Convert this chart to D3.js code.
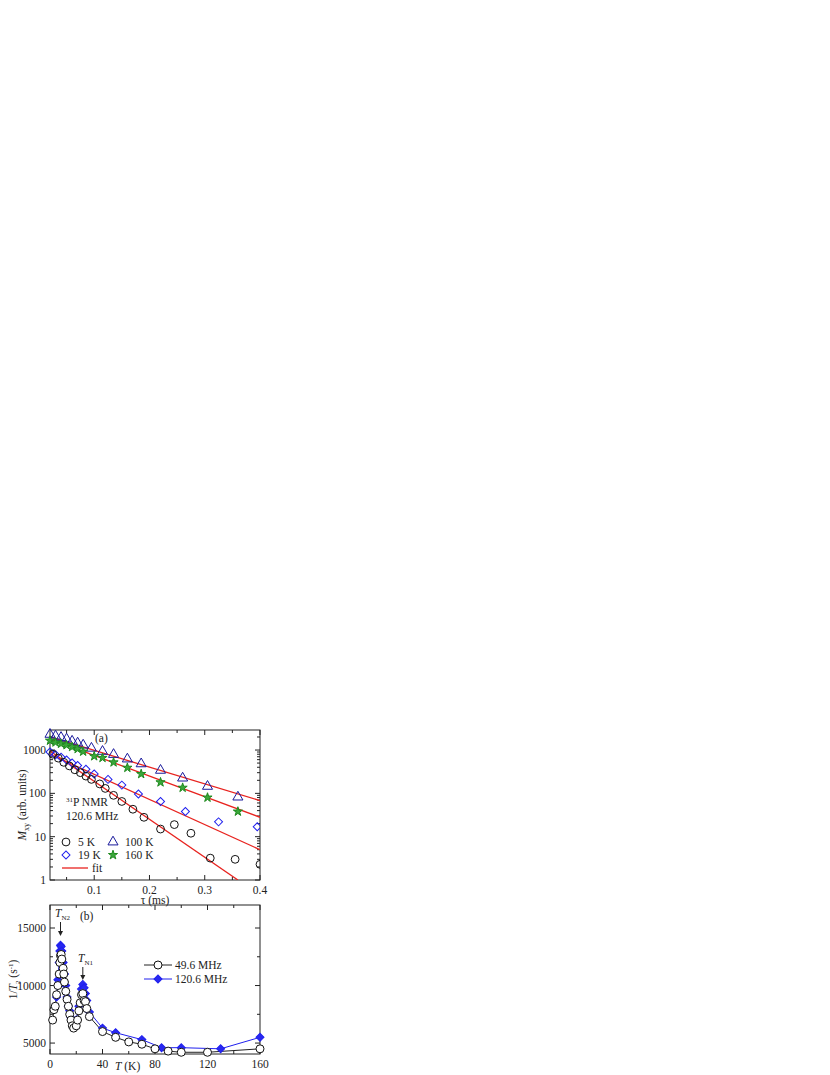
<!DOCTYPE html>
<html><head><meta charset="utf-8">
<script src="https://cdn.jsdelivr.net/npm/d3@7"></script>
<style>
body{margin:0;background:#fff}
text{font-family:"Liberation Serif",serif;fill:#222}
</style></head><body>
<svg id="c" width="830" height="1075"></svg>
<script>
// panel (a) data: tau (ms) and M_xy
const tau5 = [0.025,0.035,0.045,0.055,0.065,0.075,0.085,0.095,0.11,0.12,0.135,0.15,0.17,0.19,0.22,0.245,0.275,0.31,0.355,0.4]
const m5 = [800,650,520,430,350,300,250,210,165,130,90,65,43,28,15,19,12,3.2,3.0,2.3]
const tau19 = [0.02,0.03,0.04,0.05,0.06,0.07,0.085,0.1,0.125,0.15,0.18,0.22,0.265,0.325,0.395]
const m19 = [900,780,680,590,500,440,360,280,210,155,97,65,38,22,17]
const tau100 = [0.02,0.03,0.04,0.05,0.06,0.07,0.08,0.095,0.115,0.135,0.16,0.185,0.22,0.26,0.305,0.36]
const m100 = [2300,2100,1950,1800,1600,1450,1300,1100,930,790,620,480,340,225,145,82]
const tau160 = [0.02,0.03,0.04,0.05,0.06,0.07,0.08,0.1,0.115,0.135,0.16,0.185,0.22,0.26,0.305,0.36]
const m160 = [1650,1500,1400,1300,1180,1060,920,720,660,520,390,280,180,135,80,38]
// fit lines: [tau, M] endpoints
const fit5 = [[0.02,950],[0.36,1]]
const fit19 = [[0.02,800],[0.4,5]]
const fit100 = [[0.02,2000],[0.4,68]]
const fit160 = [[0.02,1800],[0.4,28]]

// panel (b) data: T (K) and 1/T2
const T49 = [2,3,4,5,6,7,7.5,8,8.5,9,10,10.5,11,12,13,14,15,16,17,18,20,21,22,23,24,25,26,27,28,30,40,50,60,70,80,90,100,120,160]
const r49 = [7000,7900,8200,9200,10000,11000,12000,12600,12700,12300,11500,11000,10300,9500,8800,8200,7500,7000,6500,6300,6500,7000,7800,8500,9200,9300,8700,8600,8000,7300,6000,5500,5100,4900,4500,4300,4200,4200,4500]
const T120 = [5,6,7,7.5,8,8.5,9,10,11,12,13,14,15,16,18,20,22,24,25,26,27,28,30,40,50,70,85,100,130,160]
const r120 = [9000,10500,12000,13000,13500,13400,13000,12000,11000,10000,9000,8200,7800,7200,6800,7000,8200,9700,10100,9800,9300,8700,7700,6300,5900,5300,4600,4600,4500,5500]

const svg = d3.select('#c')
const left = 50, right = 260

function frame(g, x, y, w, h, xMaj, xMin, yMaj, yMin) {
  g.append('rect').attr('x', 0).attr('y', 0).attr('width', w).attr('height', h)
    .attr('fill', 'none').attr('stroke', '#222').attr('stroke-width', 1)
  const tick = (vals, len, fn) => vals.forEach(v => fn(v, len))
  tick(xMaj, 5, (v, l) => { [[h, h - l], [0, l]].forEach(p => g.append('line').attr('x1', x(v)).attr('x2', x(v)).attr('y1', p[0]).attr('y2', p[1]).attr('stroke', '#222')) })
  tick(xMin, 3, (v, l) => { [[h, h - l], [0, l]].forEach(p => g.append('line').attr('x1', x(v)).attr('x2', x(v)).attr('y1', p[0]).attr('y2', p[1]).attr('stroke', '#222')) })
  tick(yMaj, 5, (v, l) => { [[0, l], [w, w - l]].forEach(p => g.append('line').attr('y1', y(v)).attr('y2', y(v)).attr('x1', p[0]).attr('x2', p[1]).attr('stroke', '#222')) })
  tick(yMin, 3, (v, l) => { [[0, l], [w, w - l]].forEach(p => g.append('line').attr('y1', y(v)).attr('y2', y(v)).attr('x1', p[0]).attr('x2', p[1]).attr('stroke', '#222')) })
}

// ---------- panel (a)
const ga = svg.append('g').attr('transform', `translate(${left},730)`)
const wa = right - left, ha = 150
const xa = d3.scaleLinear().domain([0.02, 0.4]).range([0, wa])
const ya = d3.scaleLog().domain([1, 2900]).range([ha, 0])
const yaMin = []
;[1, 10, 100, 1000].forEach(d => { for (let k = 2; k <= 9; k++) if (d * k <= 2900) yaMin.push(d * k) })
frame(ga, xa, ya, wa, ha, [0.1, 0.2, 0.3, 0.4], [0.05, 0.15, 0.25, 0.35], [1, 10, 100, 1000], yaMin)

ga.selectAll('.xl').data([0.1, 0.2, 0.3, 0.4]).enter().append('text')
  .attr('x', d => xa(d)).attr('y', ha + 14).attr('text-anchor', 'middle').attr('font-size', 11.5).text(d => d)
ga.selectAll('.yl').data([1, 10, 100, 1000]).enter().append('text')
  .attr('x', -4).attr('y', d => ya(d) + 4).attr('text-anchor', 'end').attr('font-size', 11.5).text(d => d)
ga.append('text').attr('x', wa / 2).attr('y', ha + 24).attr('text-anchor', 'middle').attr('font-size', 11.5).text('τ (ms)')
ga.append('text').attr('transform', `translate(-24,${ha / 2}) rotate(-90)`).attr('text-anchor', 'middle').attr('font-size', 11.5)
  .html('<tspan font-style="italic">M</tspan><tspan font-size="8" dy="3">xy</tspan><tspan dy="-3"> (arb. units)</tspan>')

svg.append('clipPath').attr('id', 'clipA').append('rect').attr('x', -6).attr('y', -6).attr('width', wa + 6).attr('height', ha + 6)
const line = d3.line().x(d => xa(d[0])).y(d => ya(d[1]))
const va = ga.append('g').attr('clip-path', 'url(#clipA)')
;[fit5, fit19, fit100, fit160].forEach(f => va.append('path').attr('d', line(f)).attr('stroke', '#e8231f').attr('stroke-width', 1.3).attr('fill', 'none'))

const sym = (type, size) => d3.symbol().type(type).size(size)()
const star = d3.symbol().type(d3.symbolStar).size(26)()
function pts(taus, ms, path, stroke, fill, rot) {
  va.selectAll(null).data(taus.map((t, i) => [t, ms[i]])).enter().append('path')
    .attr('d', path).attr('transform', d => `translate(${xa(d[0])},${ya(d[1])})${rot ? ' rotate(45)' : ''}`)
    .attr('fill', fill).attr('stroke', stroke).attr('stroke-width', 1)
}
pts(tau100, m100, sym(d3.symbolTriangle, 44), '#1a1a9c', 'none')
pts(tau160, m160, star, '#1f8a1f', '#3aa83a')
pts(tau19, m19, sym(d3.symbolSquare, 32), '#2020ee', 'none', true)
pts(tau5, m5, sym(d3.symbolCircle, 48), '#111', 'none')

ga.append('text').attr('x', 45).attr('y', 12).attr('font-size', 11.5).text('(a)')
ga.append('text').attr('x', 16).attr('y', 76).attr('font-size', 11.5)
  .html('<tspan font-size="7" dy="-4">31</tspan><tspan dy="4">P NMR</tspan>')
ga.append('text').attr('x', 16).attr('y', 90).attr('font-size', 11.5).text('120.6 MHz')

const legA = [
  { x: 16, y: 112, p: sym(d3.symbolCircle, 48), s: '#111', f: 'none', t: '5 K' },
  { x: 63, y: 112, p: sym(d3.symbolTriangle, 44), s: '#1a1a9c', f: 'none', t: '100 K' },
  { x: 16, y: 125, p: sym(d3.symbolSquare, 32), s: '#2020ee', f: 'none', t: '19 K', r: true },
  { x: 63, y: 125, p: star, s: '#1f8a1f', f: '#3aa83a', t: '160 K' }
]
legA.forEach(d => {
  ga.append('path').attr('d', d.p).attr('transform', `translate(${d.x},${d.y})${d.r ? ' rotate(45)' : ''}`)
    .attr('stroke', d.s).attr('fill', d.f)
  ga.append('text').attr('x', d.x + 12).attr('y', d.y + 4).attr('font-size', 11.5).text(d.t)
})
ga.append('line').attr('x1', 12).attr('x2', 38).attr('y1', 138).attr('y2', 138).attr('stroke', '#e8231f').attr('stroke-width', 1.3)
ga.append('text').attr('x', 42).attr('y', 142).attr('font-size', 11.5).text('fit')

// ---------- panel (b)
const gb = svg.append('g').attr('transform', `translate(${left},905)`)
const wb = wa, hb = 149
const xb = d3.scaleLinear().domain([0, 160]).range([0, wb])
const yb = d3.scaleLinear().domain([4050, 17000]).range([hb, 0])
frame(gb, xb, yb, wb, hb, [0, 40, 80, 120, 160], [20, 60, 100, 140], [5000, 10000, 15000], [7500, 12500])

gb.selectAll('.xl').data([0, 40, 80, 120, 160]).enter().append('text')
  .attr('x', d => xb(d)).attr('y', hb + 14).attr('text-anchor', 'middle').attr('font-size', 11.5).text(d => d)
gb.selectAll('.yl').data([5000, 10000, 15000]).enter().append('text')
  .attr('x', -4).attr('y', d => yb(d) + 4).attr('text-anchor', 'end').attr('font-size', 11.5).text(d => d)
gb.append('text').attr('x', 65).attr('y', hb + 16).attr('font-size', 11.5)
  .html('<tspan font-style="italic">T</tspan> (K)')
gb.append('text').attr('transform', `translate(-33,${hb / 2}) rotate(-90)`).attr('text-anchor', 'middle').attr('font-size', 11.5)
  .html('1/<tspan font-style="italic">T</tspan><tspan font-size="7" dy="3">2</tspan><tspan dy="-3"> (s</tspan><tspan font-size="7" dy="-4">-1</tspan><tspan dy="4">)</tspan>')

const lineB = d3.line().x(d => xb(d[0])).y(d => yb(d[1]))
const d120 = T120.map((t, i) => [t, r120[i]])
const d49 = T49.map((t, i) => [t, r49[i]])
gb.append('path').attr('d', lineB(d120)).attr('stroke', '#2020ee').attr('fill', 'none').attr('stroke-width', 1)
gb.append('path').attr('d', lineB(d49)).attr('stroke', '#222').attr('fill', 'none').attr('stroke-width', 1)
const diam = sym(d3.symbolSquare, 32)
gb.selectAll(null).data(d120).enter().append('path').attr('d', diam)
  .attr('transform', d => `translate(${xb(d[0])},${yb(d[1])}) rotate(45)`)
  .attr('fill', '#2828f0').attr('stroke', '#2020ee')
gb.selectAll(null).data(d49).enter().append('circle')
  .attr('cx', d => xb(d[0])).attr('cy', d => yb(d[1])).attr('r', 4)
  .attr('fill', '#fff').attr('stroke', '#111').attr('stroke-width', 1)

gb.append('text').attr('x', 30).attr('y', 15).attr('font-size', 11.5).text('(b)')
gb.append('text').attr('x', 5).attr('y', 12).attr('font-size', 11.5)
  .html('<tspan font-style="italic">T</tspan><tspan font-size="7" dy="3">N2</tspan>')
gb.append('text').attr('x', 28).attr('y', 57).attr('font-size', 11.5)
  .html('<tspan font-style="italic">T</tspan><tspan font-size="7" dy="3">N1</tspan>')
const arrow = (x, y1, y2) => {
  gb.append('line').attr('x1', x).attr('x2', x).attr('y1', y1).attr('y2', y2 - 4).attr('stroke', '#222')
  gb.append('path').attr('d', `M${x - 2.5},${y2 - 5}L${x + 2.5},${y2 - 5}L${x},${y2}Z`).attr('fill', '#222')
}
arrow(xb(8), 17, 31)
arrow(xb(25), 62, 75)

const legB = [{ y: 60, t: '49.6 MHz', c: '#222' }, { y: 74, t: '120.6 MHz', c: '#2020ee' }]
legB.forEach((d, i) => {
  gb.append('line').attr('x1', 94).attr('x2', 122).attr('y1', d.y).attr('y2', d.y).attr('stroke', d.c)
  if (i === 0) gb.append('circle').attr('cx', 108).attr('cy', d.y).attr('r', 4).attr('fill', '#fff').attr('stroke', '#111')
  else gb.append('path').attr('d', diam).attr('transform', `translate(108,${d.y}) rotate(45)`).attr('fill', '#2828f0').attr('stroke', '#2020ee')
  gb.append('text').attr('x', 125).attr('y', d.y + 4).attr('font-size', 11.5).text(d.t)
})
</script>
</body></html>
